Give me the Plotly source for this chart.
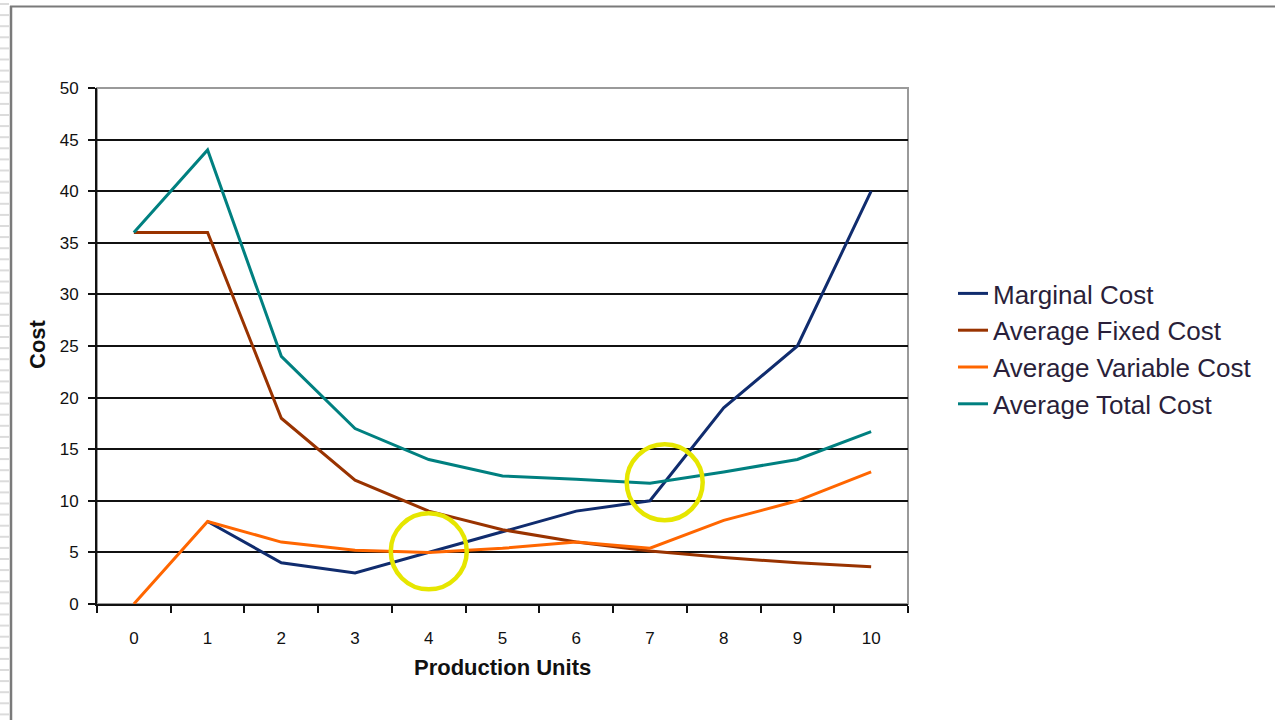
import plotly.graph_objects as go

# Production units (category axis) and the four cost series
units = [0, 1, 2, 3, 4, 5, 6, 7, 8, 9, 10]
marginal_cost = [None, 8, 4, 3, 5, 7, 9, 10, 19, 25, 40]
avg_fixed_cost = [36, 36, 18, 12, 9, 7.2, 6, 5.14, 4.5, 4, 3.6]
avg_variable_cost = [0, 8, 6, 5.2, 5, 5.4, 6, 5.4, 8.1, 10, 12.8]
avg_total_cost = [36, 44, 24, 17, 14, 12.4, 12.1, 11.7, 12.8, 14, 16.7]

series_names = ["Marginal Cost", "Average Fixed Cost",
                "Average Variable Cost", "Average Total Cost"]
series_values = [marginal_cost, avg_fixed_cost, avg_variable_cost, avg_total_cost]
series_colors = ["#102c6e", "#993300", "#ff6600", "#008080"]

# Points of interest ringed on the chart: (units, cost)
highlight_points = [(4.0, 5.1), (7.2, 11.8)]

W, H = 1275, 720
L, R, T, B = 97, 908, 88, 604  # plot area in pixels


def px_x(p):
    return (p - L) / (R - L)


def px_y(p):
    return (B - p) / (B - T)


fig = go.Figure()
for name, vals, col in zip(series_names, series_values, series_colors):
    fig.add_trace(go.Scatter(
        x=units, y=vals, name=name, mode="lines",
        line=dict(color=col, width=3),
    ))

shapes = []
# plot-area frame
shapes.append(dict(type="rect", xref="paper", yref="paper", x0=0, x1=1, y0=0, y1=1,
                   line=dict(color="#9a9a9a", width=2), layer="below"))
# yellow rings
for cx, cy in highlight_points:
    shapes.append(dict(type="circle", xref="x", yref="y",
                       xsizemode="pixel", ysizemode="pixel",
                       xanchor=cx, yanchor=cy, x0=-38, x1=38, y0=-38, y1=38,
                       line=dict(color="#e6e600", width=4.5), layer="above"))
# window frame: top and left borders
shapes.append(dict(type="line", xref="paper", yref="paper",
                   x0=px_x(10), x1=px_x(W + 5), y0=px_y(6.5), y1=px_y(6.5),
                   line=dict(color="#7a7a7a", width=2)))
shapes.append(dict(type="line", xref="paper", yref="paper",
                   x0=px_x(11), x1=px_x(11), y0=px_y(6), y1=px_y(H + 5),
                   line=dict(color="#7a7a7a", width=2.5)))
# striped strip on the left edge
yy = 4.0
while yy < H:
    shapes.append(dict(type="line", xref="paper", yref="paper",
                       x0=px_x(0), x1=px_x(9), y0=px_y(yy), y1=px_y(yy),
                       line=dict(color="#dcdcdc", width=2)))
    yy += 11.1

annotations = [
    dict(text="<b>Production Units</b>", xref="paper", yref="paper",
         x=px_x(502), y=px_y(667), showarrow=False, xanchor="center", yanchor="middle",
         font=dict(family="Liberation Sans, Arial", size=22, color="#111")),
    dict(text="<b>Cost</b>", xref="paper", yref="paper", textangle=-90,
         x=px_x(37), y=px_y(344), showarrow=False, xanchor="center", yanchor="middle",
         font=dict(family="Liberation Sans, Arial", size=22, color="#111")),
]

fig.update_layout(
    width=W, height=H,
    margin=dict(l=L, r=W - R, t=T, b=H - B),
    paper_bgcolor="white", plot_bgcolor="white",
    font=dict(family="Liberation Sans, Arial", color="#111"),
    shapes=shapes, annotations=annotations,
    legend=dict(
        x=px_x(953), y=px_y(270), xanchor="left", yanchor="top",
        font=dict(size=26, color="#2a1f3a"),
        bgcolor="rgba(0,0,0,0)", traceorder="normal",
    ),
    showlegend=True,
)

fig.update_xaxes(
    range=[-0.5, 10.5], tickvals=units, ticktext=[str(u) for u in units],
    ticks="outside", ticklen=18, tickcolor="rgba(0,0,0,0)",
    tickfont=dict(size=17, color="#111"),
    showgrid=False, zeroline=False,
    showline=True, linecolor="#111", linewidth=2,
    minor=dict(tick0=-0.5, dtick=1, ticks="outside", ticklen=7,
               tickcolor="#111", tickwidth=2, showgrid=False),
)
fig.update_yaxes(
    range=[0, 50], dtick=5,
    ticks="outside", ticklen=7, tickcolor="#111", tickwidth=2,
    tickfont=dict(size=17, color="#111"), ticklabelstandoff=6,
    showgrid=True, gridcolor="#111", gridwidth=1.6,
    zeroline=False, showline=True, linecolor="#111", linewidth=2,
)

fig.write_html("out.html")
